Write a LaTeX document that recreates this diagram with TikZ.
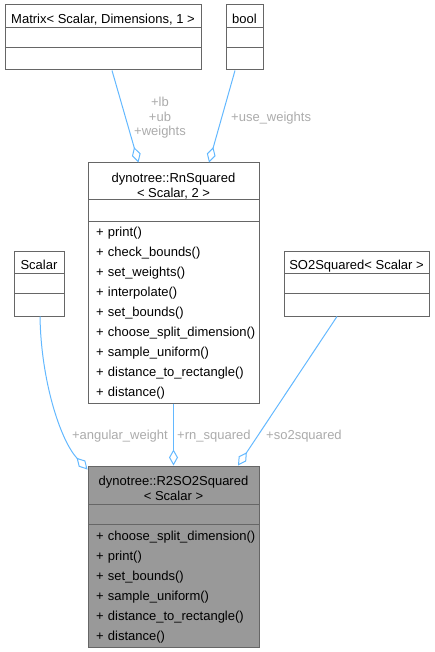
\documentclass[tikz,border=0pt]{standalone}
\usepackage{fontspec}
\setmainfont{Liberation Sans}
\usetikzlibrary{arrows.meta}

\definecolor{edgeblue}{HTML}{63B8FF}
\definecolor{boxline}{HTML}{666666}
\definecolor{labelgray}{HTML}{ABABAB}
\definecolor{curfill}{HTML}{999999}

\tikzset{
  part/.style={draw=boxline, line width=1pt, fill=white, inner sep=0pt},
  title/.style={part, text height=15pt, text depth=0pt},
  title2/.style={part, align=center, text height=31pt, text depth=0pt},
  ops/.style={part, inner xsep=8pt, text width=155pt, align=left, text height=12pt,
    font=\fontsize{13}{20}\selectfont},
  assoc/.style={draw=edgeblue, line width=1pt, -{Diamond[open,length=16pt,width=9pt]}},
  elabel/.style={text=labelgray, inner sep=0pt},
}

\begin{document}
\begin{tikzpicture}[x=1pt, y=-1pt, font=\fontsize{13}{15}\selectfont]
\useasboundingbox (0,0) rectangle (435,652);

% Matrix< Scalar, Dimensions, 1 >
\node[title, minimum width=196pt, minimum height=23pt] (mtx) at (103,16.5) {Matrix< Scalar, Dimensions, 1 >};
\node[part, minimum width=196pt, minimum height=20pt] (mtxattr) at (103,38) {};
\node[part, minimum width=196pt, minimum height=22pt] (mtxops) at (103,59) {};

% bool
\node[title, minimum width=37pt, minimum height=23pt] (bool) at (244.5,16.5) {bool};
\node[part, minimum width=37pt, minimum height=20pt] (boolattr) at (244.5,38) {};
\node[part, minimum width=37pt, minimum height=22pt] (boolops) at (244.5,59) {};

% dynotree::RnSquared
\node[title2, minimum width=171pt, minimum height=37pt] (rn) at (173.5,181.5) {dynotree::RnSquared\\< Scalar, 2 >};
\node[part, minimum width=171pt, minimum height=21pt] (rnattr) at (173.5,210.5) {};
\node[ops, minimum height=182pt] (rnops) at (173.5,312) {+~print()\\+~check\_bounds()\\+~set\_weights()\\+~interpolate()\\+~set\_bounds()\\+~choose\_split\_dimension()\\+~sample\_uniform()\\+~distance\_to\_rectangle()\\+~distance()};

% Scalar
\node[title, minimum width=50pt, minimum height=22pt] (scalar) at (39,262) {Scalar};
\node[part, minimum width=50pt, minimum height=20pt] (scalarattr) at (39,283) {};
\node[part, minimum width=50pt, minimum height=23pt] (scalarops) at (39,304.5) {};

% SO2Squared< Scalar >
\node[title, minimum width=145pt, minimum height=22pt] (so2) at (356.5,262) {SO2Squared< Scalar >};
\node[part, minimum width=145pt, minimum height=20pt] (so2attr) at (356.5,283) {};
\node[part, minimum width=145pt, minimum height=23pt] (so2ops) at (356.5,304.5) {};

% dynotree::R2SO2Squared
\node[title2, fill=curfill, minimum width=171pt, minimum height=38pt] (r2) at (173.5,485) {dynotree::R2SO2Squared\\< Scalar >};
\node[part, fill=curfill, minimum width=171pt, minimum height=20pt] (r2attr) at (173.5,514) {};
\node[ops, fill=curfill, minimum height=123pt] (r2ops) at (173.5,585.5) {+~choose\_split\_dimension()\\+~print()\\+~set\_bounds()\\+~sample\_uniform()\\+~distance\_to\_rectangle()\\+~distance()};

% associations
\path[assoc] ([xshift=9pt]mtxops.south) -- ([xshift=-35pt]rn.north);
\path[assoc] ([xshift=-9.5pt]boolops.south) -- ([xshift=35.5pt]rn.north);
\path[assoc] ([xshift=1pt]scalarops.south) .. controls (41,380) and (60,440) .. ([yshift=-4pt]r2.north west);
\path[assoc] (rnops.south) -- (r2.north);
\path[assoc] ([xshift=-19.5pt]so2ops.south) -- ([xshift=64.5pt]r2.north);

% labels
\node[elabel, align=center, font=\fontsize{13}{14.5}\selectfont] (lmtx) at (160,118) {+lb\\+ub\\+weights};
\node[elabel, anchor=west] (lbool) at (231,118) {+use\_weights};
\node[elabel, anchor=east] (lscalar) at (168,436) {+angular\_weight};
\node[elabel, anchor=west] (lrn) at (177,436) {+rn\_squared};
\node[elabel, anchor=west] (lso2) at (266,436) {+so2squared};
\end{tikzpicture}
\end{document}
